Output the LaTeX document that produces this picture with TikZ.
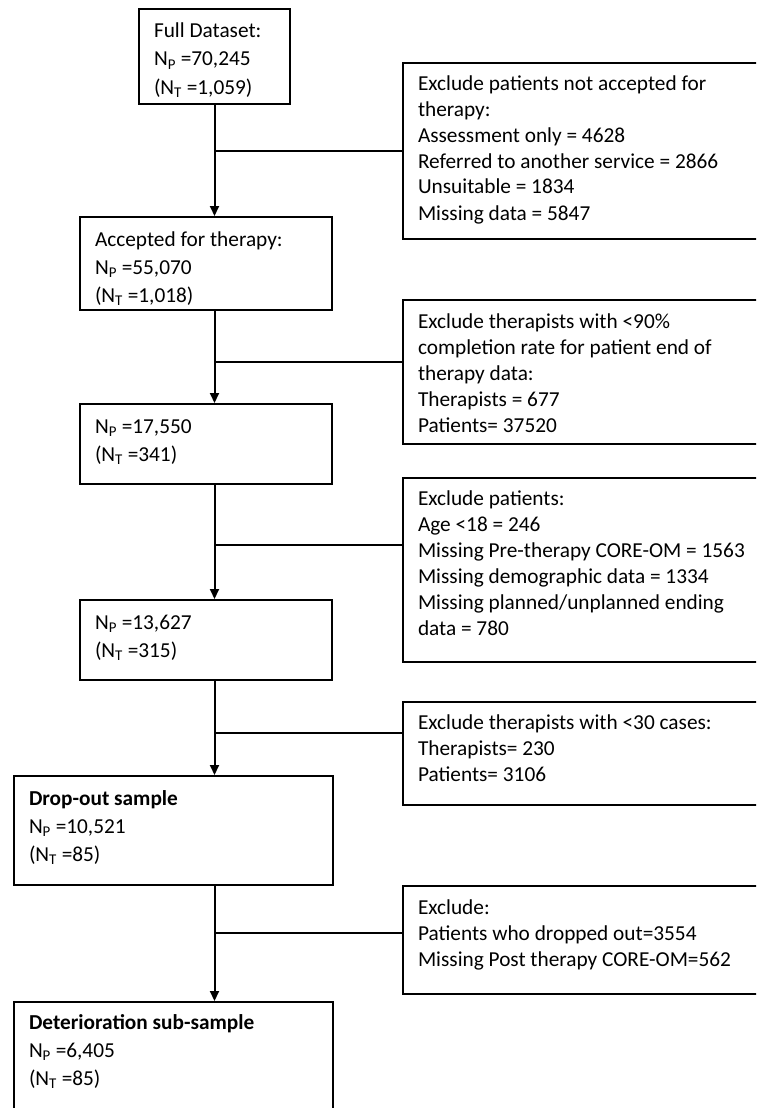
\documentclass[tikz,border=0pt]{standalone}
\usepackage{fontspec}
\setmainfont{Carlito}
\usetikzlibrary{arrows.meta}

\newcommand{\npat}{N\textsubscript{P}}
\newcommand{\nthr}{N\textsubscript{T}}
% height, width, first baseline, lines
\newcommand{\inbox}[4]{\parbox[t][#1pt][t]{#2pt}{\raggedright\rule{0pt}{#3pt}#4}}

\begin{document}
\begin{tikzpicture}[x=1pt,y=-1pt,
    lbox/.style={draw,line width=2pt,anchor=north west,inner xsep=15pt,inner ysep=0pt,
      font=\fontsize{21.3}{28}\selectfont},
    rbox/.style={lbox,font=\fontsize{21.3}{26}\selectfont},
    flow/.style={line width=2pt,-{Triangle[length=10pt,width=9pt]}},
    link/.style={line width=1.6pt}]
  \useasboundingbox (0,0) rectangle (756,1108);
  \clip (0,0) rectangle (756,1108);

  % main column
  \node[lbox] (full) at (138,8) {\inbox{95}{121}{29}{Full Dataset:\\ \npat{} =70,245\\ (\nthr{} =1,059)}};
  \node[lbox] (accepted) at (79,216) {\inbox{93}{222}{29}{Accepted for therapy:\\ \npat{} =55,070\\ (\nthr{} =1,018)}};
  \node[lbox] (n17550) at (79,403) {\inbox{80}{222}{29}{\npat{} =17,550\\ (\nthr{} =341)}};
  \node[lbox] (n13627) at (79,599) {\inbox{80}{222}{29}{\npat{} =13,627\\ (\nthr{} =315)}};
  \node[lbox] (dropout) at (13,775) {\inbox{109}{289}{29}{\textbf{Drop-out sample}\\ \npat{} =10,521\\ (\nthr{} =85)}};
  \node[lbox] (deter) at (13,1001) {\inbox{130}{289}{27}{\textbf{Deterioration sub-sample}\\ \npat{} =6,405\\ (\nthr{} =85)}};

  % exclusions
  \node[rbox] (excl1) at (402,62) {\inbox{176}{360}{27}{Exclude patients not accepted for\\ therapy:\\ Assessment only = 4628\\ Referred to another service = 2866\\ Unsuitable = 1834\\ Missing data = 5847}};
  \node[rbox] (excl2) at (402,299) {\inbox{144}{360}{28}{Exclude therapists with <90\%\\ completion rate for patient end of\\ therapy data:\\ Therapists = 677\\ Patients= 37520}};
  \node[rbox] (excl3) at (402,477) {\inbox{184}{360}{27}{Exclude patients:\\ Age <18 = 246\\ Missing Pre-therapy CORE-OM = 1563\\ Missing demographic data = 1334\\ Missing planned/unplanned ending\\ data = 780}};
  \node[rbox] (excl4) at (402,701) {\inbox{103}{360}{27}{Exclude therapists with <30 cases:\\ Therapists= 230\\ Patients= 3106}};
  \node[rbox] (excl5) at (402,885) {\inbox{108}{360}{28}{Exclude:\\ Patients who dropped out=3554\\ Missing Post therapy CORE-OM=562}};

  \coordinate (j1) at (214,151);
  \coordinate (j2) at (214,362);
  \coordinate (j3) at (214,545);
  \coordinate (j4) at (214,733);
  \coordinate (j5) at (214,933);

  \draw[flow] (full.south) -- (full.south |- accepted.north);
  \draw[flow] (full.south |- accepted.south) -- (full.south |- n17550.north);
  \draw[flow] (full.south |- n17550.south) -- (full.south |- n13627.north);
  \draw[flow] (full.south |- n13627.south) -- (full.south |- dropout.north);
  \draw[flow] (full.south |- dropout.south) -- (full.south |- deter.north);

  \draw[link] (excl1.west |- j1) -- (j1);
  \draw[link] (excl2.west |- j2) -- (j2);
  \draw[link] (excl3.west |- j3) -- (j3);
  \draw[link] (excl4.west |- j4) -- (j4);
  \draw[link] (excl5.west |- j5) -- (j5);
\end{tikzpicture}
\end{document}
